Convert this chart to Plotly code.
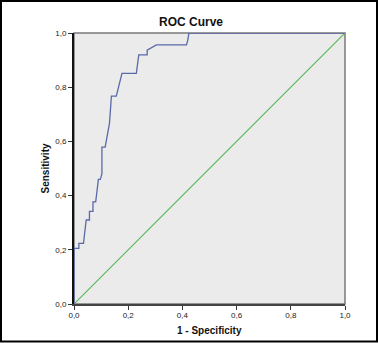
import plotly.graph_objects as go

# ROC curve vertices (1 - specificity, sensitivity)
fpr = [0, 0, 0.018, 0.018, 0.035, 0.045, 0.057, 0.057, 0.07, 0.07, 0.08, 0.082,
       0.09, 0.097, 0.103, 0.103, 0.115, 0.131, 0.138, 0.156, 0.165, 0.177,
       0.23, 0.239, 0.27, 0.27, 0.304, 0.415, 0.42, 0.424, 1.0]
tpr = [0, 0.205, 0.205, 0.224, 0.224, 0.31, 0.31, 0.342, 0.342, 0.377, 0.377, 0.394,
       0.46, 0.46, 0.48, 0.579, 0.579, 0.667, 0.767, 0.767, 0.808, 0.851,
       0.851, 0.919, 0.919, 0.937, 0.956, 0.956, 0.974, 1.0, 1.0]
ref_x = [0, 1]
ref_y = [0, 1]
tick_vals = [0, 0.2, 0.4, 0.6, 0.8, 1.0]
tick_text = ["0,0", "0,2", "0,4", "0,6", "0,8", "1,0"]

W, H = 378, 343
L, R, T, B = 74, 33, 33, 39
pw, ph = W - L - R, H - T - B

FONT = "Arial, Liberation Sans, sans-serif"

fig = go.Figure()
fig.add_trace(go.Scatter(x=ref_x, y=ref_y, mode="lines",
                         line=dict(color="#5cba5c", width=1.2), hoverinfo="skip"))
fig.add_trace(go.Scatter(x=fpr, y=tpr, mode="lines",
                         line=dict(color="#5a6aa8", width=1.3), hoverinfo="skip"))

axfont = dict(family=FONT, size=8, color="#222")
common = dict(range=[0, 1], tickvals=tick_vals, ticktext=tick_text, showgrid=False,
              zeroline=False, ticks="outside", ticklen=4, tickwidth=1, tickcolor="#333",
              tickfont=axfont, showline=True, fixedrange=True, automargin=False)
fig.update_xaxes(**common, linecolor="#444", linewidth=1.5, ticklabelstandoff=-1)
fig.update_yaxes(**common, linecolor="#111", linewidth=2, ticklabelstandoff=0)

shapes = [
    dict(type="rect", xref="paper", yref="paper", x0=0, y0=0, x1=1, y1=1,
         line=dict(color="#7a7a7a", width=1.5), layer="below"),
    dict(type="rect", xref="paper", yref="paper",
         x0=(1 - L) / pw, x1=(W - 1 - L) / pw,
         y0=-(B - 1.5) / ph, y1=(H - B - 1) / ph,
         line=dict(color="#000", width=2)),
]

annotations = [
    dict(text="<b>1 - Specificity</b>", xref="paper", yref="paper",
         x=0.5, y=-(330 - (H - B)) / ph, xanchor="center", yanchor="middle",
         showarrow=False, font=dict(family=FONT, size=10, color="#111")),
    dict(text="<b>Sensitivity</b>", xref="paper", yref="paper",
         x=-(L - 45) / pw, y=0.5, xanchor="center", yanchor="middle", textangle=-90,
         showarrow=False, font=dict(family=FONT, size=10, color="#111")),
    dict(text="<b>ROC Curve</b>", xref="paper", yref="paper",
         x=(191 - L) / pw, y=(H - B - 22.5) / ph, xanchor="center", yanchor="middle",
         showarrow=False, font=dict(family=FONT, size=12, color="#111")),
]

fig.update_layout(
    width=W, height=H,
    margin=dict(l=L, r=R, t=T, b=B, pad=0),
    paper_bgcolor="white", plot_bgcolor="#ebebeb",
    showlegend=False,
    shapes=shapes,
    annotations=annotations,
)

fig.write_html("out.html", config={"displayModeBar": False})
